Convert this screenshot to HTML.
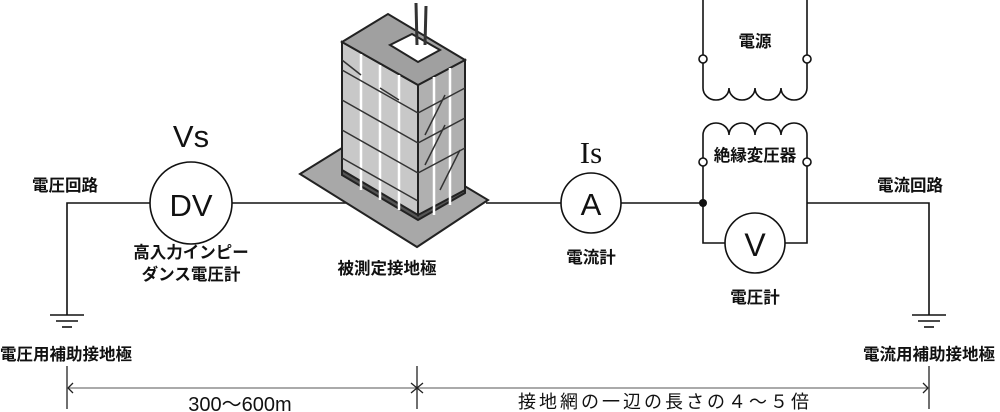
<!DOCTYPE html>
<html><head><meta charset="utf-8"><style>
html,body{margin:0;padding:0;background:#fff;}
svg{display:block;}
text{font-family:"Liberation Sans","Noto Sans CJK JP",sans-serif;fill:#111;}
.b{font-weight:bold;font-size:16.5px;}
</style></head><body>
<svg width="1000" height="412" viewBox="0 0 1000 412" xmlns="http://www.w3.org/2000/svg">
<g stroke="#111" stroke-width="1.6" fill="none">
<polyline points="67,315 67,203 150,203"/>
<line x1="232" y1="203" x2="365" y2="203"/>
<circle cx="191" cy="203" r="41"/>
<line x1="50" y1="315" x2="84" y2="315"/>
<line x1="56" y1="321" x2="78" y2="321"/>
<line x1="62" y1="327" x2="72" y2="327"/>
<line x1="486" y1="203" x2="561" y2="203"/>
<circle cx="591" cy="203" r="30"/>
<line x1="621" y1="203" x2="703" y2="203"/>
<polyline points="703,166 703,243 725,243"/>
<circle cx="755" cy="243" r="30"/>
<polyline points="785,243 807,243 807,166"/>
<polyline points="807,203 929,203 929,315"/>
<line x1="912" y1="315" x2="946" y2="315"/>
<line x1="918" y1="321" x2="940" y2="321"/>
<line x1="924" y1="327" x2="934" y2="327"/>
<polyline points="703,0 703,55"/>
<polyline points="807,0 807,55"/>
<path d="M703,63 V88 A13,12 0 0 0 729,88 A13,12 0 0 0 755,88 A13,12 0 0 0 781,88 A13,12 0 0 0 807,88 V63"/>
<path d="M703,158 V135 A13,12 0 0 1 729,135 A13,12 0 0 1 755,135 A13,12 0 0 1 781,135 A13,12 0 0 1 807,135 V158"/>
<circle cx="703" cy="59" r="4" fill="#fff"/>
<circle cx="807" cy="59" r="4" fill="#fff"/>
<circle cx="703" cy="162" r="4" fill="#fff"/>
<circle cx="807" cy="162" r="4" fill="#fff"/>
</g>
<circle cx="703" cy="203" r="4" fill="#111"/>
<g stroke="#222" stroke-width="1.3" fill="none">
<line x1="67" y1="366" x2="67" y2="409"/>
<line x1="417" y1="366" x2="417" y2="409"/>
<line x1="929" y1="366" x2="929" y2="409"/>
<line x1="67" y1="388" x2="929" y2="388" stroke="#777"/>
<polyline points="73,383 68,388 73,393"/>
<polyline points="411,383 417,388 411,393"/>
<polyline points="423,383 417,388 423,393"/>
<polyline points="923,383 928,388 923,393"/>
</g>
<g stroke="#222" stroke-width="2">
<polygon points="300,174 371,130 488,200 417,247" fill="#a8a8a8"/>
<polygon points="342,175 418,220 465,193 465,185 418,213 342,170" fill="#555"/>
<polygon points="342,42 418,85 418,215 342,170" fill="#c8c8c8"/>
<polygon points="418,85 465,60 465,190 418,215" fill="#b0b0b0"/>
<polygon points="342,42 388,14 465,60 418,85" fill="#a0a0a0"/>
<polygon points="390,45 412,34 440,50 418,62" fill="#fff"/>
</g>
<g stroke="#fff" stroke-width="2.5">
<line x1="361" y1="54" x2="361" y2="190"/><line x1="380" y1="65" x2="380" y2="200"/><line x1="399" y1="75" x2="399" y2="210"/>
<line x1="434" y1="77" x2="434" y2="215"/><line x1="450" y1="68" x2="450" y2="205"/>
</g>
<g stroke="#333" stroke-width="1.5">
<line x1="342" y1="70" x2="418" y2="113"/><line x1="342" y1="100" x2="418" y2="143"/><line x1="342" y1="130" x2="418" y2="173"/><line x1="342" y1="158" x2="418" y2="201"/>
<line x1="418" y1="113" x2="465" y2="88"/><line x1="418" y1="143" x2="465" y2="118"/><line x1="418" y1="173" x2="465" y2="148"/>
<line x1="342" y1="60" x2="361" y2="75"/><line x1="380" y1="88" x2="399" y2="100"/>
<line x1="425" y1="135" x2="445" y2="95"/><line x1="425" y1="165" x2="445" y2="125"/><line x1="440" y1="190" x2="460" y2="150"/>
</g>
<g stroke="#333" stroke-width="3"><line x1="417" y1="45" x2="416" y2="3"/><line x1="425" y1="45" x2="426" y2="6"/></g>
<text x="191" y="147" font-size="31" text-anchor="middle">Vs</text>
<text x="191" y="216" font-size="31" text-anchor="middle">DV</text>
<text x="591" y="215" font-size="31" text-anchor="middle">A</text>
<text x="755" y="256" font-size="32" text-anchor="middle">V</text>
<text x="591" y="163" font-size="31" text-anchor="middle" style="font-family:'Liberation Serif',serif">Is</text>
<text class="b" x="32" y="191">電圧回路</text>
<text class="b" x="191" y="258" text-anchor="middle">高入力インピー</text>
<text class="b" x="191" y="280" text-anchor="middle">ダンス電圧計</text>
<text class="b" x="0" y="360" font-size="17">電圧用補助接地極</text>
<text class="b" x="387" y="274" text-anchor="middle">被測定接地極</text>
<text class="b" x="591" y="263" text-anchor="middle">電流計</text>
<text class="b" x="755" y="303" text-anchor="middle">電圧計</text>
<text class="b" x="755" y="47" text-anchor="middle">電源</text>
<text class="b" x="755" y="161" text-anchor="middle">絶縁変圧器</text>
<text class="b" x="910" y="191" text-anchor="middle">電流回路</text>
<text class="b" x="929" y="360" text-anchor="middle" font-size="17">電流用補助接地極</text>
<text x="240" y="411" font-size="20" text-anchor="middle">300〜600m</text>
<text x="665" y="408" font-size="18" text-anchor="middle" letter-spacing="3">接地網の一辺の長さの４〜５倍</text>
</svg>
</body></html>
